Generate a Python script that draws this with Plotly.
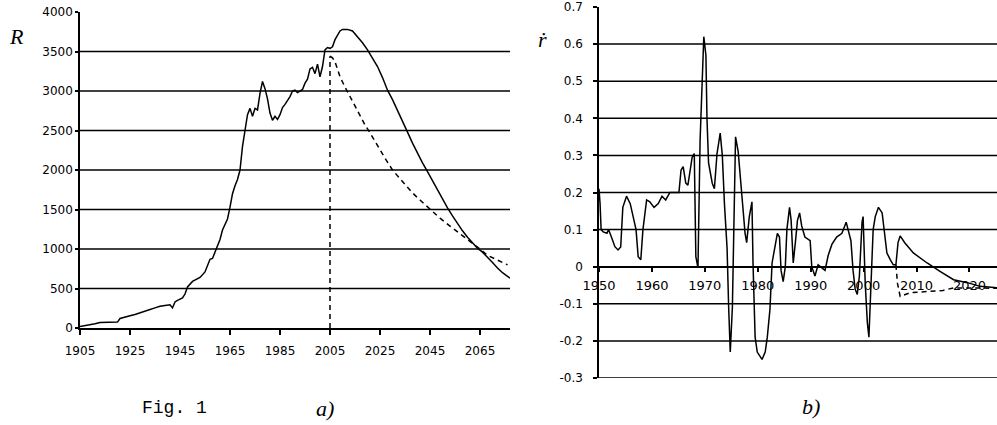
import plotly.graph_objects as go

# ---------------- Panel a) : R ----------------
R_years = [1905, 1907, 1909, 1911, 1913, 1917, 1920, 1921, 1923, 1925, 1927, 1929, 1931, 1933,
           1935, 1937, 1939, 1941, 1942, 1943, 1944, 1946, 1947, 1948, 1950, 1952, 1953, 1955,
           1956, 1957, 1958, 1959, 1960, 1961, 1962, 1963, 1964, 1965, 1966, 1967, 1968, 1969,
           1970, 1971, 1972, 1973, 1974, 1975, 1976, 1977, 1978, 1979, 1980, 1981, 1982, 1983,
           1984, 1985, 1986, 1987, 1988, 1989, 1990, 1991, 1992, 1993, 1994, 1995, 1996, 1997,
           1998, 1999, 2000, 2001, 2002, 2003, 2004, 2005, 2006, 2007, 2008, 2009, 2010, 2012,
           2014, 2016, 2018, 2020, 2022, 2024, 2026, 2028, 2030, 2032, 2034, 2036, 2038, 2040,
           2042, 2044, 2046, 2048, 2050, 2052, 2054, 2056, 2058, 2060, 2062, 2064, 2066, 2068,
           2070, 2072, 2074, 2077]
R_values = [20, 30, 45, 55, 70, 70, 75, 120, 140, 155, 170, 195, 210, 235,
            255, 275, 285, 295, 255, 330, 350, 380, 430, 520, 590, 620, 640, 710,
            780, 870, 880, 960, 1040, 1120, 1240, 1300, 1380, 1530, 1700, 1800, 1880, 2000,
            2300, 2500, 2700, 2780, 2680, 2780, 2760, 2970, 3120, 3030, 2900, 2720, 2630, 2680,
            2640, 2700, 2790, 2830, 2880, 2930, 3000, 3010, 2980, 3000, 3020, 3100, 3150, 3280,
            3300, 3220, 3340, 3180, 3310, 3520, 3550, 3540, 3560, 3650, 3700, 3760, 3780, 3780,
            3760, 3690, 3610, 3520, 3420, 3310, 3170, 3010, 2890, 2760, 2620, 2480, 2340, 2210,
            2090, 1980, 1860, 1740, 1630, 1520, 1420, 1320, 1230, 1150, 1080, 1010, 960, 900,
            830, 760, 700, 630]

R_proj_years = [2005, 2006, 2007, 2009, 2011, 2013, 2015, 2017, 2019, 2021, 2023, 2025, 2027,
                2030, 2034, 2038, 2041, 2044, 2049, 2053, 2056, 2059, 2062, 2065, 2068, 2072, 2076]
R_proj_values = [3440, 3420, 3370, 3180, 3050, 2930, 2800, 2670, 2570, 2470, 2360, 2250, 2150,
                 2000, 1850, 1710, 1620, 1530, 1390, 1290, 1220, 1150, 1080, 1000, 920, 860, 800]

marker_year = [2005, 2005]
marker_level = [0, 3440]

R_xticks = [1905, 1925, 1945, 1965, 1985, 2005, 2025, 2045, 2065]
R_yticks = [0, 500, 1000, 1500, 2000, 2500, 3000, 3500, 4000]
R_grid = [500, 1000, 1500, 2000, 2500, 3000, 3500]

# ---------------- Panel b) : r-dot ----------------
r_years = [1950.0, 1950.2, 1950.4, 1950.8, 1951.5, 1951.8, 1952.4, 1953.0, 1953.6, 1954.1,
           1954.5, 1955.2, 1955.9, 1956.5, 1957.0, 1957.4, 1957.9, 1958.3, 1959.0, 1959.6,
           1960.4, 1961.2, 1961.9, 1962.6, 1963.4, 1964.7, 1965.1, 1965.5, 1965.9, 1966.4,
           1966.8, 1967.6, 1968.0, 1968.3, 1968.7, 1969.1, 1969.4, 1969.8, 1970.2, 1970.4,
           1970.7, 1971.4, 1971.8, 1972.3, 1972.9, 1973.3, 1973.7, 1974.2, 1974.5, 1974.8,
           1975.2, 1975.4, 1975.8, 1976.3, 1977.0, 1977.6, 1977.9, 1978.4, 1978.9, 1979.1,
           1979.5, 1979.9, 1980.8, 1981.4, 1981.8, 1982.3, 1982.7, 1983.3, 1983.7, 1984.1,
           1984.4, 1984.8, 1985.2, 1985.5, 1986.0, 1986.3, 1986.7, 1987.1, 1987.5, 1987.9,
           1988.3, 1988.9, 1989.9, 1990.2, 1990.8, 1991.4, 1992.2, 1992.7, 1993.3, 1994.0,
           1994.9, 1995.9, 1996.7, 1997.1, 1997.6, 1998.0, 1998.4, 1998.8, 1999.2, 1999.7,
           1999.9, 2000.3, 2000.7, 2001.0, 2001.4, 2001.8, 2002.2, 2002.8, 2003.5, 2003.9,
           2004.4, 2005.0, 2005.6, 2006.1, 2006.5, 2006.9, 2007.8, 2009.4, 2012.0, 2014.5,
           2017.0, 2019.6, 2022.0, 2025.2]
r_values = [0.21, 0.17, 0.10, 0.094, 0.09, 0.10, 0.078, 0.054, 0.045, 0.053,
            0.16, 0.19, 0.17, 0.135, 0.10, 0.027, 0.019, 0.10, 0.18, 0.175,
            0.16, 0.17, 0.19, 0.18, 0.20, 0.20, 0.20, 0.26, 0.27, 0.225,
            0.22, 0.295, 0.305, 0.027, -0.003, 0.34, 0.49, 0.62, 0.57, 0.40,
            0.28, 0.225, 0.21, 0.305, 0.36, 0.30, 0.17, 0.05, -0.11, -0.23,
            -0.11, 0.07, 0.35, 0.31, 0.18, 0.09, 0.065, 0.135, 0.175, 0.01,
            -0.19, -0.23, -0.25, -0.23, -0.19, -0.115, 0.01, 0.055, 0.09, 0.08,
            -0.01, -0.04, 0.00, 0.10, 0.16, 0.125, 0.01, 0.065, 0.125, 0.145,
            0.11, 0.08, 0.07, 0.0, -0.025, 0.005, -0.005, -0.01, 0.03, 0.06,
            0.08, 0.09, 0.12, 0.10, 0.07, -0.01, -0.06, -0.075, -0.025, 0.12,
            0.135, -0.045, -0.15, -0.19, -0.06, 0.10, 0.135, 0.16, 0.145, 0.10,
            0.037, 0.02, 0.005, 0.005, 0.065, 0.083, 0.064, 0.037, 0.01, -0.013,
            -0.035, -0.043, -0.053, -0.057]

r_proj_years = [2006.1, 2006.4, 2006.9, 2008.8, 2012.0, 2015.0, 2017.0, 2020.0, 2025.2]
r_proj_values = [0.005, -0.045, -0.08, -0.07, -0.067, -0.064, -0.057, -0.057, -0.058]

r_xticks = [1950, 1960, 1970, 1980, 1990, 2000, 2010, 2020]
r_yticks = [-0.3, -0.2, -0.1, 0, 0.1, 0.2, 0.3, 0.4, 0.5, 0.6, 0.7]
r_yticktext = ["-0.3", "-0.2", "-0.1", "0", "0.1", "0.2", "0.3", "0.4", "0.5", "0.6", "0.7"]
r_grid = [-0.3, -0.2, -0.1, 0.1, 0.2, 0.3, 0.4, 0.5, 0.6]

W, H = 997, 425
BLACK = "#000000"
LW = 1.5
DASH = "5px,4px"

fig = go.Figure()
fig.add_trace(go.Scatter(x=R_years, y=R_values, mode="lines",
                         line=dict(color=BLACK, width=LW), xaxis="x", yaxis="y"))
fig.add_trace(go.Scatter(x=R_proj_years, y=R_proj_values, mode="lines",
                         line=dict(color=BLACK, width=LW, dash=DASH), xaxis="x", yaxis="y"))
fig.add_trace(go.Scatter(x=marker_year, y=marker_level, mode="lines",
                         line=dict(color=BLACK, width=LW, dash=DASH), xaxis="x", yaxis="y"))
fig.add_trace(go.Scatter(x=r_years, y=r_values, mode="lines",
                         line=dict(color=BLACK, width=LW), xaxis="x2", yaxis="y2"))
fig.add_trace(go.Scatter(x=r_proj_years, y=r_proj_values, mode="lines",
                         line=dict(color=BLACK, width=LW, dash=DASH), xaxis="x2", yaxis="y2"))

shapes = []
for g in R_grid:
    shapes.append(dict(type="line", xref="x domain", yref="y", x0=0, x1=1, y0=g, y1=g,
                       line=dict(color=BLACK, width=LW), layer="below"))
for g in r_grid:
    shapes.append(dict(type="line", xref="x2 domain", yref="y2", x0=0, x1=1, y0=g, y1=g,
                       line=dict(color=BLACK, width=LW), layer="below"))

tick_font = dict(family="DejaVu Sans", size=12, color=BLACK)
tick_font2 = dict(family="DejaVu Sans", size=12, color=BLACK)
tick_font2x = dict(family="DejaVu Sans", size=13, color=BLACK)

common = dict(showline=True, linecolor=BLACK, linewidth=LW, showgrid=False, zeroline=False,
              ticks="outside", tickwidth=1.5, tickcolor=BLACK, automargin=False,
              ticklabeloverflow="allow")


def label(text, px, py, family, size):
    return dict(text=text, x=px / W, y=1 - py / H, xref="paper", yref="paper",
                xanchor="center", yanchor="middle", showarrow=False,
                font=dict(family=family, size=size, color=BLACK))


fig.update_layout(
    width=W, height=H, autosize=False,
    margin=dict(l=0, r=0, t=0, b=0, pad=0, autoexpand=False),
    paper_bgcolor="white", plot_bgcolor="white",
    showlegend=False,
    shapes=shapes,
    xaxis=dict(domain=[80 / W, 510 / W], range=[1905, 2077], anchor="y",
               tickvals=R_xticks, ticklen=5, ticklabelstandoff=6, tickfont=tick_font, **common),
    yaxis=dict(domain=[(H - 328) / H, (H - 12) / H], range=[0, 4000], anchor="x",
               tickvals=R_yticks, ticklen=3, tickfont=tick_font, **common),
    xaxis2=dict(domain=[599 / W, 1.0], range=[1950, 2025.2], anchor="free",
                position=(H - 267) / H, ticklabelstandoff=3,
                tickvals=r_xticks, ticklen=4, tickfont=tick_font2x, **common),
    yaxis2=dict(domain=[(H - 378) / H, (H - 7) / H], range=[-0.3, 0.7], anchor="x2",
                tickvals=r_yticks, ticktext=r_yticktext, ticklen=4, ticklabelstandoff=8,
                tickfont=tick_font2, **common),
    annotations=[
        label("<i>R</i>", 16, 36, "Liberation Serif", 22),
        label("<i>ṙ</i>", 542, 39, "Liberation Serif", 22),
        label("Fig. 1", 174, 408, "Liberation Mono", 18),
        label("<i>a)</i>", 325, 408, "Liberation Serif", 22),
        label("<i>b)</i>", 811, 406, "Liberation Serif", 22),
    ],
)

fig.write_html("out.html", config={"displayModeBar": False},
               post_script="document.body.style.margin='0';document.body.style.padding='0';")
